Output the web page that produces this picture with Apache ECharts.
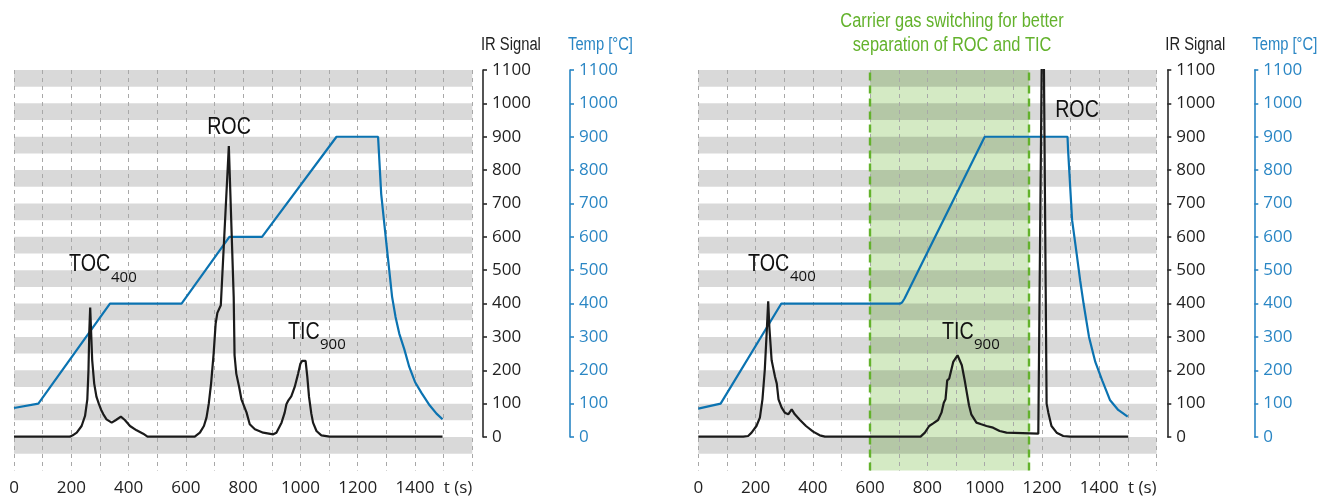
<!DOCTYPE html>
<html><head><meta charset="utf-8">
<script src="https://cdn.jsdelivr.net/npm/echarts@6/dist/echarts.min.js"></script>
<style>html,body{margin:0;padding:0;background:#fff}#c{width:1336px;height:497px}</style>
</head><body><div id="c"></div>
<script>
// ---------- data ----------
const tMin = 0, tMax = 1600, tStep = 100, tLabelStep = 200;
const yMin = 0, yMax = 1100, yStep = 100;
const bandMin = -100, bandStep = 50;
const xAxisEndName = 't (s)';
const irName = 'IR Signal';
const tempName = 'Temp [°C]';

const leftIR = [[0,1],[195,1],[205,5],[219,13],[236,33],[248,63],[256,113],[260,200],[263,320],[266,388],[269,320],[273,230],[280,160],[288,120],[296,100],[304,82],[312,68],[323,53],[341,43],[356,51],[373,61],[387,51],[405,33],[428,20],[451,10],[466,1],[631,1],[649,13],[663,33],[672,58],[680,100],[688,160],[697,250],[704,340],[710,372],[722,395],[750,872],[767,420],[770,245],[776,190],[786,150],[794,113],[812,73],[823,38],[841,23],[870,13],[905,8],[916,13],[934,43],[945,73],[951,98],[958,110],[968,122],[980,150],[992,190],[1000,220],[1006,228],[1018,228],[1024,180],[1030,120],[1038,70],[1044,43],[1056,18],[1073,5],[1102,1],[1496,1]];
const leftTemp = [[0,87],[85,100],[335,400],[585,400],[752,600],[866,600],[1126,900],[1271,900],[1282,728],[1300,580],[1320,420],[1332,360],[1345,310],[1363,262],[1380,210],[1400,165],[1422,133],[1451,95],[1475,70],[1496,53]];

const rightIR = [[0,1],[157,1],[174,3],[186,13],[203,33],[215,58],[224,113],[232,200],[238,300],[244,407],[248,330],[252,280],[256,230],[262,205],[268,180],[274,160],[280,113],[291,88],[302,73],[314,68],[326,83],[337,68],[355,51],[376,33],[401,16],[424,5],[442,1],[776,1],[791,13],[806,33],[820,41],[837,51],[849,73],[857,103],[863,113],[869,170],[876,175],[890,225],[905,245],[910,248],[920,215],[930,170],[938,130],[945,95],[953,68],[971,43],[988,38],[1006,33],[1029,28],[1052,18],[1076,13],[1187,10],[1189,10],[1203,1500],[1216,100],[1222,73],[1233,33],[1251,13],[1274,3],[1298,1],[1501,1]];
const rightTemp = [[0,85],[78,100],[290,400],[705,400],[712,404],[720,415],[1000,900],[1289,900],[1291,860],[1305,650],[1320,555],[1333,470],[1345,400],[1364,300],[1386,225],[1410,170],[1437,111],[1466,81],[1499,61]];

const switchStart = 600, switchEnd = 1155;
const noteLines = ['Carrier gas switching for better', 'separation of ROC and TIC'];

// ---------- styles / layout ----------
const COND = '"Liberation Sans", Arial, sans-serif';   // drawn horizontally condensed
const COND_SX = 0.82;
const SANS = '"Open Sans", sans-serif';
const BLACK = '#1b1b1b', BLUE = '#0b73b1', TEMPAX = '#2a86c4', GREEN = '#63b22c';
const PLOT_TOP = 70, PLOT_W = 458.3, H_AXIS = 367, H_BAND = 400.4;
const IR_OFF = 10.7, T_OFF = 97.7;
const panels = [
  { left: 14, ir: leftIR, temp: leftTemp, green: false },
  { left: 698.3, ir: rightIR, temp: rightTemp, green: true }
];

const grid = [], xAxis = [], yAxis = [], series = [];
function valueAxisY(gi, off, color, lineColor) {
  return {
    gridIndex: gi, type: 'value', position: 'right', offset: off, min: yMin, max: yMax, interval: yStep,
    axisLine: { show: true, onZero: false, lineStyle: { color: lineColor, width: 1.6 } },
    axisTick: { show: true, length: 4, lineStyle: { color: lineColor, width: 1.6 } },
    axisLabel: { fontFamily: SANS, fontSize: 17, color: color, margin: 9, formatter: v => String(v) },
    splitLine: { show: false }
  };
}
panels.forEach((p) => {
  const gA = grid.length; grid.push({ left: p.left, top: PLOT_TOP, width: PLOT_W, height: H_BAND });
  const gB = grid.length; grid.push({ left: p.left, top: PLOT_TOP, width: PLOT_W, height: H_AXIS });
  const gC = grid.length; grid.push({ left: p.left, top: PLOT_TOP, width: PLOT_W, height: H_AXIS });

  const xA = xAxis.length;
  xAxis.push({
    gridIndex: gA, type: 'value', min: tMin, max: tMax, interval: tStep, z: 4,
    axisLine: { show: false, onZero: false }, axisTick: { show: false },
    splitLine: { show: true, lineStyle: { color: '#a8a8a8', width: 1, type: [4, 4] } },
    axisLabel: {
      fontFamily: SANS, fontSize: 17, color: '#222', margin: 9, alignMaxLabel: 'right',
      formatter: v => v === tMax ? xAxisEndName : (v % tLabelStep === 0 ? String(v) : '')
    }
  });
  const xB = xAxis.length; xAxis.push({ gridIndex: gB, type: 'value', min: tMin, max: tMax, show: false, axisLine: { onZero: false } });
  const xC = xAxis.length; xAxis.push({ gridIndex: gC, type: 'value', min: tMin, max: tMax, show: false, axisLine: { onZero: false } });

  const yBand = yAxis.length;
  yAxis.push({
    gridIndex: gA, type: 'value', min: bandMin, max: yMax, interval: bandStep, z: 3,
    axisLine: { show: false, onZero: false }, axisTick: { show: false }, axisLabel: { show: false },
    splitLine: { show: false },
    splitArea: { show: true, areaStyle: { color: ['rgba(0,0,0,0)', 'rgba(0,0,0,0.15)'] } }
  });
  const yIR = yAxis.length; yAxis.push(valueAxisY(gB, IR_OFF, '#222', '#2a2a2a'));
  const yT = yAxis.length; yAxis.push(valueAxisY(gC, T_OFF, TEMPAX, TEMPAX));

  if (p.green) {
    series.push({
      type: 'line', xAxisIndex: xA, yAxisIndex: yBand, data: [], silent: true,
      markArea: { silent: true, itemStyle: { color: '#d4eac4' }, data: [[{ xAxis: switchStart }, { xAxis: switchEnd }]] },
      markLine: {
        silent: true, symbol: ['none', 'none'], label: { show: false },
        lineStyle: { color: GREEN, width: 2.4, type: [8, 5] },
        data: [{ xAxis: switchStart }, { xAxis: switchEnd }]
      }
    });
  }
  series.push({
    type: 'line', xAxisIndex: xC, yAxisIndex: yT, data: p.temp, z: 6,
    symbol: 'none', showSymbol: false, clip: true, lineStyle: { color: BLUE, width: 2.2 }
  });
  series.push({
    type: 'line', xAxisIndex: xB, yAxisIndex: yIR, data: p.ir, z: 7,
    symbol: 'none', showSymbol: false, clip: true, lineStyle: { color: BLACK, width: 2.2 }
  });
});

function txt(text, x, y, size, opts) {
  opts = opts || {};
  const cond = !opts.family;
  return {
    type: 'text', x: x, y: y, z: 50, scaleX: cond ? COND_SX : 1,
    style: {
      text: text, fontSize: size, fontFamily: opts.family || COND, fill: opts.color || '#111',
      textAlign: opts.align || 'left', textVerticalAlign: 'middle',
      align: opts.align || 'left', verticalAlign: 'middle'
    }
  };
}

const graphic = [];
panels.forEach(p => {
  const axX = p.left + PLOT_W;
  graphic.push(txt(irName, axX + IR_OFF - 2, 45, 18, { color: '#222' }));
  graphic.push(txt(tempName, axX + T_OFF - 2, 45, 18, { color: TEMPAX }));
});
graphic.push(
  txt('ROC', 229, 127, 24, { align: 'center' }),
  txt('TOC', 69, 264, 24),
  txt('400', 111, 278, 15, { family: SANS }),
  txt('TIC', 288, 332, 24),
  txt('900', 320, 345, 15, { family: SANS }),
  txt('TOC', 748, 264, 24),
  txt('400', 790, 277, 15, { family: SANS }),
  txt('TIC', 942, 332, 24),
  txt('900', 974, 345, 15, { family: SANS }),
  txt('ROC', 1077, 110, 24, { align: 'center' }),
  txt(noteLines[0], 952, 21, 20, { align: 'center', color: GREEN }),
  txt(noteLines[1], 952, 45, 20, { align: 'center', color: GREEN })
);

const chart = echarts.init(document.getElementById('c'), null, { renderer: 'canvas' });
chart.setOption({
  animation: false,
  backgroundColor: '#ffffff',
  grid: grid, xAxis: xAxis, yAxis: yAxis, series: series, graphic: graphic
});
</script></body></html>
